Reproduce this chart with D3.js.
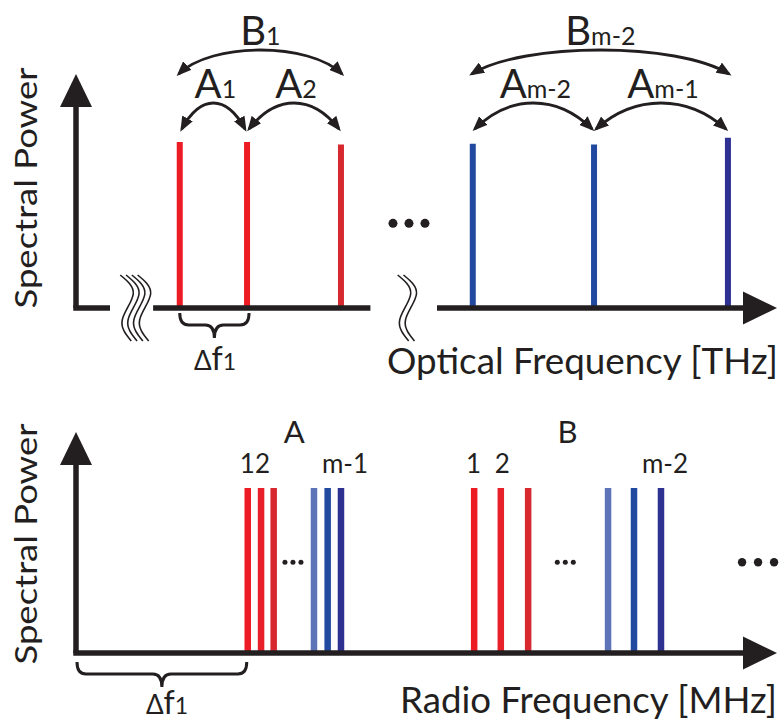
<!DOCTYPE html>
<html>
<head>
<meta charset="utf-8">
<script src="https://cdn.jsdelivr.net/npm/d3@7"></script>
<style>
  body { margin: 0; background: #fff; }
  svg text { font-family: Lato, "Noto Sans", sans-serif; font-weight: 400; fill: #231f20; }
</style>
</head>
<body>
<svg id="chart" width="782" height="721"></svg>
<script>
const INK = '#231f20'

// frequencies in arbitrary units (0..100 along the x axis), power normalised to 1
const opticalFreq = [14.8, 24.4, 37.8, 56.6, 73.9, 93.0]
const opticalPower = [1.0, 1.0, 0.985, 0.99, 0.985, 1.025]
const opticalColor = ['#ed1c24', '#ed1c24', '#d7282f', '#2249a0', '#2249a0', '#2e3192']

// spacings marked above the optical comb: [from line, to line, label, subscript, row]
const opticalArcs = [
  [0, 1, 'A', '1', 0],
  [1, 2, 'A', '2', 0],
  [3, 4, 'A', 'm-2', 0],
  [4, 5, 'A', 'm-1', 0],
  [0, 2, 'B', '1', 1],
  [3, 5, 'B', 'm-2', 1],
]

const opticalAxisSegments = [[0, 4.85], [11.0, 42.0], [51.5, 100]]
const opticalBreaks = [[8.55, 4], [47.3, 2]] // [centre, number of wavy lines]
const opticalDots = [[47.5, 0.51]]           // [centre, level]

// RF beat notes (bottom panel)
const rfGroupNames = ['A', 'B']
const rfFreqA = [24.5, 26.4, 28.2, 33.95, 35.9, 37.8]
const rfFreqB = [56.8, 60.6, 64.5, 75.9, 79.6, 83.45]
const rfPower = [1, 1, 1, 1, 1, 1]
const rfColor = ['#ed1c24', '#e8202a', '#d7282f', '#5e74b8', '#2249a0', '#2e3192']
const rfTagsA = [[0, '1'], [1, '2'], [5, 'm-1']]
const rfTagsB = [[0, '1'], [1, '2'], [5, 'm-2']]
const rfDots = [[30.95, 0.55, 'small'], [69.8, 0.55, 'small'], [97.3, 0.55, 'big']]

const svg = d3.select('#chart')
const x = d3.scaleLinear().domain([0, 100]).range([76, 777])
const yTop = d3.scaleLinear().domain([0, 1]).range([308, 142])
const yBot = d3.scaleLinear().domain([0, 1]).range([653, 488])

const defs = svg.append('defs')
defs.append('marker')
  .attr('id', 'arrow')
  .attr('markerUnits', 'userSpaceOnUse')
  .attr('viewBox', '0 0 15 12')
  .attr('markerWidth', 15).attr('markerHeight', 12)
  .attr('refX', 12).attr('refY', 6)
  .attr('orient', 'auto-start-reverse')
  .append('path').attr('d', 'M0,0 L15,6 L0,12 Z').attr('fill', INK)

function drawYAxis(g, y, tipY) {
  const x0 = x(0)
  g.append('path')
    .attr('d', `M${x0},${y(0)} V${tipY + 30}`)
    .attr('stroke', INK).attr('stroke-width', 5.5).attr('fill', 'none')
  g.append('path')
    .attr('d', `M${x0 - 16},${tipY + 33} L${x0},${tipY} L${x0 + 16},${tipY + 33} Z`)
    .attr('fill', INK)
}

function xArrow(g, y0) {
  const tip = x(100)
  g.append('path')
    .attr('d', `M${tip - 34},${y0 - 16.5} L${tip},${y0} L${tip - 34},${y0 + 16.5} Z`)
    .attr('fill', INK)
}

function brace(g, x0, x1, yb) {
  const xc = (x0 + x1) / 2, ym = yb + 12, tip = yb + 25, r = 9
  g.append('path')
    .attr('d', `M${x0},${yb} Q${x0},${ym} ${x0 + r},${ym} L${xc - r},${ym} Q${xc},${ym} ${xc},${tip}
                Q${xc},${ym} ${xc + r},${ym} L${x1 - r},${ym} Q${x1},${ym} ${x1},${yb}`)
    .attr('fill', 'none').attr('stroke', INK).attr('stroke-width', 3)
}

function deltaLabel(g, cx, baseline) {
  const t = g.append('text').attr('x', cx).attr('y', baseline).attr('text-anchor', 'middle')
  t.append('tspan').attr('font-size', 26).text('Δ')
  t.append('tspan').attr('font-size', 32).text('f')
  t.append('tspan').attr('font-size', 23).text('1')
}

function yLabel(g, cy) {
  g.append('text')
    .attr('transform', `translate(37,${cy}) rotate(-90)`)
    .attr('text-anchor', 'middle')
    .attr('font-size', 30)
    .attr('textLength', 241).attr('lengthAdjust', 'spacingAndGlyphs')
    .text('Spectral Power')
}

function dots(g, cx, cy, r, gap) {
  g.selectAll(null).data([-1, 0, 1]).join('circle')
    .attr('cx', (d) => cx + d * gap).attr('cy', cy).attr('r', r).attr('fill', INK)
}

// ---------- top panel: optical comb ----------
const topG = svg.append('g')

topG.selectAll('line.comb')
  .data(opticalFreq)
  .join('line')
  .attr('class', 'comb')
  .attr('x1', (d) => x(d)).attr('x2', (d) => x(d))
  .attr('y1', yTop(0)).attr('y2', (d, i) => yTop(opticalPower[i]))
  .attr('stroke', (d, i) => opticalColor[i])
  .attr('stroke-width', 6)

drawYAxis(topG, yTop, 74)
topG.selectAll('line.seg')
  .data(opticalAxisSegments)
  .join('line')
  .attr('class', 'seg')
  .attr('x1', (d) => x(d[0]) - (d[0] === 0 ? 2.75 : 0))
  .attr('x2', (d) => (d[1] === 100 ? x(100) - 32 : x(d[1])))
  .attr('y1', yTop(0)).attr('y2', yTop(0))
  .attr('stroke', INK).attr('stroke-width', 5.5)
xArrow(topG, yTop(0))

const wave = d3.line().curve(d3.curveNatural)
const waveShape = [[-7, -33], [6, -14], [-5, 12], [4, 33]]
opticalBreaks.forEach(([at, n]) => {
  d3.range(n).forEach((i) => {
    const cx = x(at) + (i - (n - 1) / 2) * 5.8
    topG.append('path')
      .attr('d', wave(waveShape.map(([dx, dy]) => [cx + dx, yTop(0) + dy])))
      .attr('fill', 'none').attr('stroke', INK).attr('stroke-width', 1.6)
  })
})

opticalDots.forEach(([at, lv]) => dots(topG, x(at), yTop(lv), 4.5, 16))

// spacing arcs
const arcRows = [
  { tipY: 129, peakY: 103, ctrl: 0.3, labelY: 98 },
  { tipY: 74, peakY: 50, ctrl: 0.2, labelY: 45 },
]
opticalArcs.forEach(([a, b, name, sub, row]) => {
  const r = arcRows[row]
  const inset = row === 0 ? 2 : -1
  const x0 = x(opticalFreq[a]) + inset
  const x1 = x(opticalFreq[b]) - inset
  const w = x1 - x0
  const yc = (4 * r.peakY - r.tipY) / 3
  topG.append('path')
    .attr('d', `M${x0},${r.tipY} C${x0 + r.ctrl * w},${yc} ${x1 - r.ctrl * w},${yc} ${x1},${r.tipY}`)
    .attr('fill', 'none').attr('stroke', INK).attr('stroke-width', 2.8)
    .attr('marker-start', 'url(#arrow)').attr('marker-end', 'url(#arrow)')
  const t = topG.append('text')
    .attr('x', (x0 + x1) / 2 + (row === 0 ? 2 : 0)).attr('y', r.labelY)
    .attr('text-anchor', 'middle')
  t.append('tspan').attr('font-size', 40).text(name)
  t.append('tspan').attr('font-size', 25).text(sub)
})

brace(topG, x(opticalFreq[0]), x(opticalFreq[1]) + 2, 313)
deltaLabel(topG, 215, 370)
yLabel(topG, 188)

topG.append('text')
  .attr('x', 387).attr('y', 374)
  .attr('font-size', 36)
  .attr('textLength', 391).attr('lengthAdjust', 'spacingAndGlyphs')
  .text('Optical Frequency [THz]')

// ---------- bottom panel: RF beat notes ----------
const botG = svg.append('g')
const rfGroups = [
  { name: rfGroupNames[0], freq: rfFreqA, tags: rfTagsA },
  { name: rfGroupNames[1], freq: rfFreqB, tags: rfTagsB },
]

rfGroups.forEach((grp) => {
  botG.selectAll(null)
    .data(grp.freq)
    .join('line')
    .attr('x1', (d) => x(d)).attr('x2', (d) => x(d))
    .attr('y1', yBot(0)).attr('y2', (d, i) => yBot(rfPower[i]))
    .attr('stroke', (d, i) => rfColor[i])
    .attr('stroke-width', 6.5)

  botG.selectAll(null)
    .data(grp.tags)
    .join('text')
    .attr('x', (d) => x(grp.freq[d[0]]) + (d[1].length > 1 ? 4 : d[0] === 1 ? 1.5 : -0.5))
    .attr('y', 473)
    .attr('text-anchor', 'middle')
    .attr('font-size', 26)
    .attr('font-weight', 300)
    .text((d) => d[1])

  botG.append('text')
    .attr('x', (x(grp.freq[0]) + x(grp.freq[grp.freq.length - 1])) / 2)
    .attr('y', 443)
    .attr('text-anchor', 'middle')
    .attr('font-size', 31)
    .text(grp.name)
})

drawYAxis(botG, yBot, 432)
botG.append('line')
  .attr('x1', x(0) - 2.75).attr('x2', x(100) - 32)
  .attr('y1', yBot(0)).attr('y2', yBot(0))
  .attr('stroke', INK).attr('stroke-width', 5.5)
xArrow(botG, yBot(0))

rfDots.forEach(([at, lv, kind]) => {
  if (kind === 'big') dots(botG, x(at), yBot(lv), 4.2, 16)
  else dots(botG, x(at), yBot(lv), 2.5, 8)
})

brace(botG, x(0) + 1, x(rfFreqA[0]) - 1, 662)
deltaLabel(botG, 167, 714)
yLabel(botG, 544)

botG.append('text')
  .attr('x', 400).attr('y', 713)
  .attr('font-size', 36)
  .attr('textLength', 377).attr('lengthAdjust', 'spacingAndGlyphs')
  .text('Radio Frequency [MHz]')
</script>
</body>
</html>
